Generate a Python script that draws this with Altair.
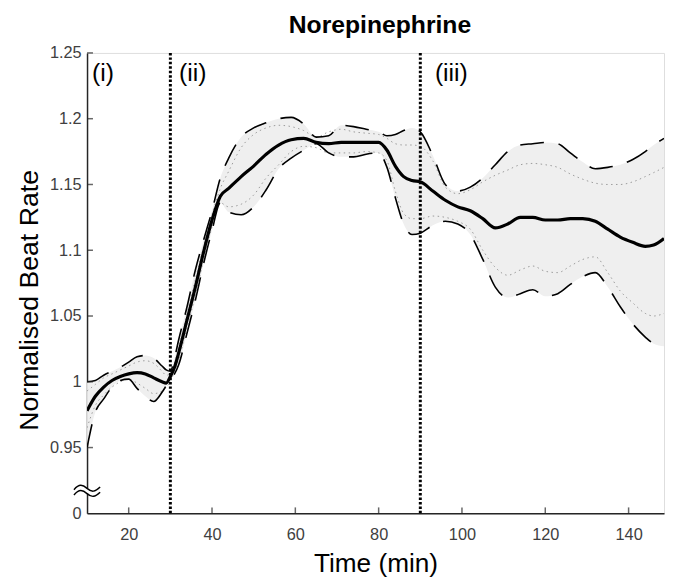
import altair as alt
import pandas as pd

# ---------------- data ----------------
TIME = [10, 12, 14, 16, 18, 20, 22, 24, 26, 28, 29, 30, 31, 32, 34, 36, 38, 40, 42, 44,
        47, 50, 53, 56, 59, 62, 65, 68, 71, 74, 77, 80, 82, 84, 86, 88, 90, 93, 96, 99,
        102, 105, 108, 111, 114, 117, 120, 123, 126, 129, 132, 135, 138, 141, 144, 146, 148.5]

MEAN = [0.978, 0.989, 0.996, 1.001, 1.004, 1.006, 1.007, 1.006, 1.003, 1.000, 0.999, 1.004, 1.011, 1.022,
        1.047, 1.072, 1.099, 1.123, 1.141, 1.147, 1.156, 1.164, 1.173, 1.180, 1.184, 1.185, 1.182, 1.181,
        1.182, 1.182, 1.182, 1.182, 1.176, 1.164, 1.156, 1.153, 1.152, 1.145, 1.138, 1.133, 1.130, 1.124,
        1.117, 1.120, 1.125, 1.125, 1.123, 1.123, 1.124, 1.124, 1.122, 1.116, 1.110, 1.106, 1.103, 1.104, 1.109]

UPPER_SD = [1.000, 1.001, 1.005, 1.008, 1.011, 1.015, 1.019, 1.020, 1.018, 1.012, 1.009, 1.008, 1.018, 1.032,
            1.057, 1.085, 1.108, 1.130, 1.155, 1.170, 1.186, 1.193, 1.197, 1.200, 1.201, 1.196, 1.186, 1.187,
            1.195, 1.194, 1.192, 1.190, 1.187, 1.188, 1.191, 1.193, 1.190, 1.172, 1.150, 1.145, 1.148, 1.155,
            1.165, 1.175, 1.180, 1.181, 1.182, 1.181, 1.174, 1.167, 1.162, 1.163, 1.165, 1.169, 1.175, 1.180, 1.185]

LOWER_SD = [0.950, 0.977, 0.987, 0.996, 1.001, 1.002, 0.995, 0.989, 0.985, 0.992, 0.997, 1.002, 1.006, 1.013,
            1.037, 1.062, 1.090, 1.115, 1.136, 1.129, 1.127, 1.133, 1.146, 1.162, 1.170, 1.176, 1.181, 1.174,
            1.171, 1.171, 1.173, 1.174, 1.163, 1.140, 1.120, 1.112, 1.113, 1.119, 1.122, 1.120, 1.112, 1.093,
            1.072, 1.064, 1.067, 1.070, 1.065, 1.067, 1.074, 1.080, 1.083, 1.072, 1.057, 1.044, 1.034, 1.029, 1.027]

UPPER_SEM = [0.993, 0.998, 1.003, 1.006, 1.009, 1.012, 1.015, 1.016, 1.014, 1.008, 1.005, 1.006, 1.014, 1.026,
             1.052, 1.078, 1.103, 1.127, 1.147, 1.160, 1.178, 1.188, 1.193, 1.195, 1.194, 1.191, 1.186, 1.190,
             1.192, 1.190, 1.189, 1.188, 1.185, 1.181, 1.180, 1.180, 1.179, 1.168, 1.148, 1.143, 1.146, 1.152,
             1.157, 1.161, 1.165, 1.166, 1.165, 1.163, 1.158, 1.154, 1.151, 1.150, 1.150, 1.152, 1.156, 1.159, 1.163]

LOWER_SEM = [0.965, 0.982, 0.990, 0.996, 1.000, 1.002, 0.999, 0.995, 0.991, 0.993, 0.996, 1.000, 1.008, 1.017,
             1.041, 1.066, 1.093, 1.118, 1.136, 1.133, 1.135, 1.142, 1.155, 1.165, 1.175, 1.179, 1.178, 1.174,
             1.174, 1.174, 1.175, 1.174, 1.168, 1.145, 1.128, 1.124, 1.124, 1.126, 1.125, 1.122, 1.116, 1.100,
             1.087, 1.081, 1.085, 1.088, 1.084, 1.083, 1.088, 1.093, 1.095, 1.083, 1.069, 1.060, 1.052, 1.050, 1.052]

PHASE_BOUNDS = [30, 90]
PHASE_LABELS = ["(i)", "(ii)", "(iii)"]
PHASE_LABEL_X = [11.2, 32.1, 93.5]
PHASE_LABEL_Y = [1.235, 1.235, 1.235]

TITLE = ["Norepinephrine"]

X_DOMAIN = [10, 148.5]
Y_DOMAIN = [0.90, 1.25]          # bottom of the (broken) axis is labelled "0"
X_TICKS = [20, 40, 60, 80, 100, 120, 140]
Y_TICKS = [0.90, 0.95, 1.00, 1.05, 1.10, 1.15, 1.20, 1.25]
Y_TICKS_INNER = [0.95, 1.00, 1.05, 1.10, 1.15, 1.20, 1.25]
BREAK_Y = [0.917]

# ---------------- tables ----------------
df = pd.DataFrame({"t": TIME, "mean": MEAN, "usd": UPPER_SD, "lsd": LOWER_SD,
                   "usem": UPPER_SEM, "lsem": LOWER_SEM})
bounds_df = pd.DataFrame({"t": PHASE_BOUNDS})
labels_df = pd.DataFrame({"t": PHASE_LABEL_X, "y": PHASE_LABEL_Y, "label": PHASE_LABELS})
yt_df = pd.DataFrame({"t": [X_DOMAIN[0]] * len(Y_TICKS_INNER), "y": Y_TICKS_INNER})
xt_df = pd.DataFrame({"t": X_TICKS, "y": [Y_DOMAIN[0]] * len(X_TICKS)})
brk_df = pd.DataFrame({"t": [X_DOMAIN[0]], "y": BREAK_Y})
title_df = pd.DataFrame({"label": TITLE})

FONT = "Liberation Sans"
AX = "#262626"

xs = alt.Scale(domain=X_DOMAIN, nice=False, zero=False)
ys = alt.Scale(domain=Y_DOMAIN, nice=False, zero=False)

xaxis = alt.Axis(values=X_TICKS, format="d", ticks=False, grid=False,
                 domainColor=AX, domainWidth=1.5, labelColor="#404040",
                 labelFont=FONT, labelFontSize=16.5, labelPadding=14,
                 titleFont=FONT, titleFontSize=26.5, titleFontWeight="normal",
                 titleColor="black", titleY=59, titleBaseline="alphabetic", zindex=0)
yaxis = alt.Axis(values=Y_TICKS, ticks=False, grid=False,
                 labelExpr="datum.value < 0.92 ? '0' : format(datum.value, '.2~f')",
                 domainColor=AX, domainWidth=1.5, labelColor="#404040",
                 labelFont=FONT, labelFontSize=16.5, labelPadding=6,
                 titleFont=FONT, titleFontSize=27, titleFontWeight="normal",
                 titleColor="black", titleX=-58, titleY=250, titleAngle=270,
                 titleAlign="center", titleBaseline="middle", zindex=0)

XT = "Time (min)"
YT = "Normalised Beat Rate"


def X(field="t"):
    return alt.X(f"{field}:Q", scale=xs, axis=xaxis, title=XT)


def Y(field):
    return alt.Y(f"{field}:Q", scale=ys, axis=yaxis, title=YT)


base = alt.Chart(df)

band = base.mark_area(color="#efefef", interpolate="monotone", clip=True).encode(
    x=X(), y=Y("lsd"), y2="usd:Q")

sem_up = base.mark_line(color="#9a9a9a", strokeWidth=1, strokeDash=[1.5, 3.5],
                        interpolate="monotone", clip=True).encode(x=X(), y=Y("usem"))
sem_lo = base.mark_line(color="#9a9a9a", strokeWidth=1, strokeDash=[1.5, 3.5],
                        interpolate="monotone", clip=True).encode(x=X(), y=Y("lsem"))
sd_up = base.mark_line(color="black", strokeWidth=1.6, strokeDash=[24, 15],
                       interpolate="monotone", clip=True).encode(x=X(), y=Y("usd"))
sd_lo = base.mark_line(color="black", strokeWidth=1.6, strokeDash=[24, 15],
                       interpolate="monotone", clip=True).encode(x=X(), y=Y("lsd"))
mean_line = base.mark_line(color="black", strokeWidth=3.2, interpolate="monotone",
                           clip=True).encode(x=X(), y=Y("mean"))

rules = alt.Chart(bounds_df).mark_rule(color="black", strokeWidth=3,
                                        strokeDash=[2.5, 2]).encode(x=X())

phase_text = alt.Chart(labels_df).mark_text(
    align="left", baseline="middle", font=FONT, fontSize=25, color="black").encode(
    x=X(), y=Y("y"), text="label:N")

title_text = alt.Chart(title_df).mark_text(
    align="center", baseline="alphabetic", font=FONT, fontSize=25, fontWeight="bold",
    color="black").encode(x=alt.value(296.5), y=alt.value(-20), text="label:N")

y_ticks = alt.Chart(yt_df).mark_tick(orient="horizontal", size=6, thickness=1.5,
                                     color=AX, xOffset=3).encode(x=X(), y=Y("y"))
x_ticks = alt.Chart(xt_df).mark_tick(orient="vertical", size=6, thickness=1.5,
                                     color=AX, yOffset=-3).encode(x=X(), y=Y("y"))

COVER = "M -0.15 -0.2 L 0.15 -0.2 L 0.15 0.2 L -0.15 0.2 Z"
WAVES = ("M -1 -0.1 C -0.6 -0.55 -0.35 -0.5 0 -0.2 C 0.35 0.1 0.6 0.1 1 -0.3 "
         "M -1 0.3 C -0.6 -0.15 -0.35 -0.1 0 0.2 C 0.35 0.5 0.6 0.5 1 0.1")
brk_cover = alt.Chart(brk_df).mark_point(shape=COVER, size=700, filled=True,
                                         color="white", opacity=1).encode(x=X(), y=Y("y"))
brk_waves = alt.Chart(brk_df).mark_point(shape=WAVES, size=700, filled=False,
                                         color="black", strokeWidth=1.5, opacity=1).encode(x=X(), y=Y("y"))

chart = alt.layer(
    band, sem_up, sem_lo, sd_up, sd_lo, mean_line, rules, phase_text,
    y_ticks, x_ticks, brk_cover, brk_waves, title_text
).properties(
    width=584, height=466,
    padding={"left": 80, "top": 42, "right": 1, "bottom": 64},
    autosize=alt.AutoSizeParams(type="none"),
).configure_view(stroke=None).configure(background="white")

chart.save("out.html", embed_options={"renderer": "svg", "actions": False})
